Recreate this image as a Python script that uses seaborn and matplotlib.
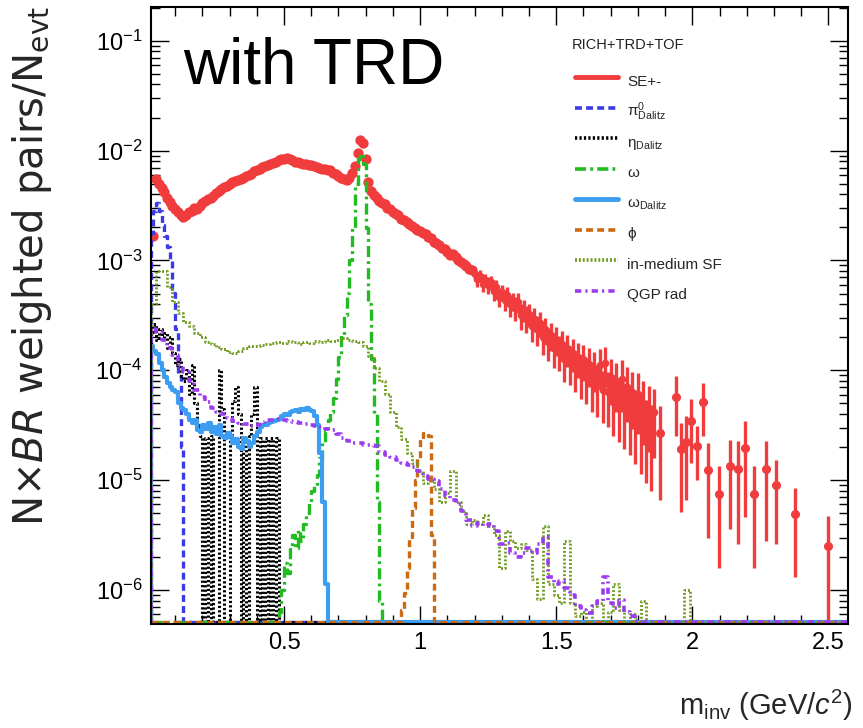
import numpy as np
import matplotlib
matplotlib.use("Agg")
import matplotlib.pyplot as plt
from matplotlib.lines import Line2D
from matplotlib.ticker import LogLocator, NullFormatter, MultipleLocator, FixedLocator
import seaborn as sns

# ---------------- data ----------------
X_MIN, X_MAX = 0.01, 2.572
Y_MIN, Y_MAX = 4.9e-7, 0.203

x_ticks = [0.5, 1.0, 1.5, 2.0, 2.5]
x_tick_labels = ["0.5", "1", "1.5", "2", "2.5"]

E = None  # empty bin

# SE+- , log10(yield), 0.01 GeV bins, low mass part (errors hidden by markers)
se_low_m = np.round(np.arange(0.02, 1.195, 0.01), 3)
se_low_log = [
    -2.78, -2.26, -2.30, -2.34, -2.38, -2.43, -2.47, -2.50, -2.53, -2.56,
    -2.59, -2.60, -2.59, -2.56, -2.55, -2.52, -2.53, -2.50, -2.48, -2.46,
    -2.44, -2.43, -2.41, -2.39, -2.37, -2.35, -2.33, -2.32, -2.30, -2.29,
    -2.28, -2.27, -2.26, -2.25, -2.23, -2.22, -2.21, -2.19, -2.18, -2.17,
    -2.15, -2.14, -2.13, -2.12, -2.11, -2.10, -2.09, -2.08, -2.08, -2.07,
    -2.08, -2.09, -2.10, -2.10, -2.11, -2.12, -2.12, -2.13, -2.13, -2.14,
    -2.15, -2.16, -2.17, -2.17, -2.18, -2.18, -2.20, -2.21, -2.23, -2.25,
    -2.26, -2.27, -2.25, -2.20, -2.14, -2.02, -1.90, -1.93, -2.08, -2.29,
    -2.37, -2.40, -2.43, -2.46, -2.48, -2.49, -2.52, -2.53, -2.56, -2.58,
    -2.59, -2.62, -2.63, -2.65, -2.67, -2.69, -2.70, -2.72, -2.73, -2.75,
    -2.76, -2.79, -2.80, -2.83, -2.84, -2.86, -2.89, -2.90, -2.92, -2.95,
    -2.94, -2.97, -3.00, -3.01, -3.03, -3.05, -3.08, -3.09,
]
# SE+- , 1.20 - 1.86 GeV, with relative errors
se_mid_m = np.round(np.arange(1.20, 1.865, 0.01), 3)
se_mid_log = [
    -3.12, -3.17, -3.14, -3.21, -3.18, -3.22, -3.20, -3.28, -3.24, -3.33,
    -3.29, -3.36, -3.31, -3.40, -3.37, -3.43, -3.38, -3.50, -3.45, -3.52,
    -3.49, -3.60, -3.53, -3.62, -3.57, -3.70, -3.62, -3.74, -3.68, -3.80,
    -3.72, -3.82, -3.76, -3.90, -3.80, -3.92, -3.84, -3.97, -3.88, -4.02,
    -3.90, -4.05, -3.94, -4.10, -3.98, -4.14, -3.95, -4.18, -3.93, -4.20,
    -4.06, -4.25, -4.10, -4.28, -4.08, -4.32, -4.15, -4.35, -4.20, -4.40,
    -4.22, -4.45, -4.30, -4.50, -4.35, -4.55, -4.38,
]
se_mid_rel = [
    0.12, 0.15, 0.12, 0.17, 0.14, 0.18, 0.15, 0.19, 0.16, 0.20,
    0.17, 0.21, 0.18, 0.23, 0.19, 0.24, 0.20, 0.26, 0.22, 0.27,
    0.23, 0.28, 0.24, 0.30, 0.25, 0.31, 0.26, 0.33, 0.28, 0.34,
    0.29, 0.35, 0.30, 0.38, 0.32, 0.39, 0.33, 0.41, 0.35, 0.43,
    0.36, 0.45, 0.38, 0.47, 0.40, 0.48, 0.38, 0.50, 0.40, 0.52,
    0.45, 0.55, 0.48, 0.58, 0.50, 0.60, 0.52, 0.62, 0.54, 0.65,
    0.56, 0.68, 0.58, 0.70, 0.60, 0.72, 0.62,
]
# SE+- , sparse high mass bins
se_high_m = [1.883, 1.941, 1.957, 1.975, 1.994, 2.018, 2.039, 2.059, 2.099,
             2.138, 2.169, 2.195, 2.228, 2.269, 2.308, 2.379, 2.499]
se_high_val = [2.69e-5, 5.68e-5, 1.92e-5, 2.24e-5, 3.43e-5, 2.06e-5, 5.1e-5,
               1.24e-5, 7.5e-6, 1.35e-5, 1.26e-5, 1.95e-5, 7.5e-6, 1.27e-5,
               9.0e-6, 4.9e-6, 2.54e-6]
se_high_err = [2.03e-5, 3.17e-5, 1.41e-5, 1.58e-5, 2.0e-5, 1.05e-5, 2.59e-5,
               9.4e-6, 5.9e-6, 9.9e-6, 1.0e-5, 1.49e-5, 5.9e-6, 9.9e-6,
               6.4e-6, 3.6e-6, 2.14e-6]

# pi0 Dalitz, 0.01 GeV bins from 0.015
pi0_log = [-2.75, -2.55, -2.48, -2.55, -2.68, -2.78, -2.88, -2.99, -3.30,
           -3.62, -4.05, -4.70]

# eta Dalitz, 0.01 GeV bins from 0.015
eta_log = [
    -3.65, -3.58, -3.72, -3.62, -3.70, -3.66, -3.80, -3.70, -3.84, -3.95,
    -3.90, -4.05, -4.10, -4.00, -4.22, -3.95, -4.30, -4.50, -4.60, E,
    -4.62, E, -4.60, E, E, -4.00, -4.35, E, E, -4.60,
    -4.28, -4.15, -4.40, E, -4.62, E, -4.60, -4.40, -4.15, E,
    -4.62, E, -4.62, E, -4.62, E, -4.62, E,
]

# omega, 0.01 GeV bins from 0.485
omega_log = [
    -6.20, -6.00, -5.75, -5.85, -5.60, -5.50, -5.62, -5.45, -5.55, -5.40,
    -5.30, -5.20, -5.10, -5.05, -4.95, -4.80, -4.65, -4.55, -4.45, -4.38,
    -4.25, -4.08, -3.88, -3.68, -3.50, -3.30, -3.00, -2.70, -2.30, -2.08,
    -2.03, -2.12, -2.70, -3.40, -3.90, -4.40, -5.20, -6.10,
]

# omega Dalitz, 0.01 GeV bins from 0.015
omegad_log = [
    -3.78, -3.82, -3.85, -3.93, -4.00, -4.06, -4.12, -4.15, -4.18, -4.20,
    -4.30, -4.34, -4.36, -4.40, -4.45, -4.48, -4.45, -4.54, -4.56, -4.50,
    -4.53, -4.48, -4.56, -4.52, -4.58, -4.50, -4.60, -4.62, -4.57, -4.60,
    -4.66, -4.63, -4.70, -4.72, -4.62, -4.64, -4.70, -4.66, -4.60, -4.56,
    -4.52, -4.50, -4.50, -4.48, -4.47, -4.46, -4.45, -4.44, -4.42, -4.40,
    -4.41, -4.38, -4.37, -4.36, -4.38, -4.35, -4.36, -4.34, -4.36, -4.37,
    -4.42, -4.50, -4.75, -5.20, -5.95,
]

# phi, 0.01 GeV bins from 0.935
phi_log = [-6.18, -6.03, -5.80, -5.52, -5.25, -5.00, -4.80, -4.63, -4.57,
           -4.57, -4.60, -5.50]

# in-medium spectral function, 0.02 GeV bins from 0.02
sf_log = [
    -3.40, -3.10, -3.10, -3.24, -3.38, -3.48, -3.56, -3.60, -3.66, -3.70,
    -3.74, -3.76, -3.79, -3.81, -3.83, -3.84, -3.82, -3.80, -3.78, -3.78,
    -3.77, -3.76, -3.75, -3.74, -3.75, -3.73, -3.74, -3.76, -3.74, -3.75,
    -3.73, -3.74, -3.72, -3.73, -3.72, -3.71, -3.72, -3.73, -3.74, -3.78,
    -3.87, -3.98, -4.10, -4.22, -4.38, -4.52, -4.63, -4.75, -4.84, -4.92,
    -5.03, -5.00, -5.08, -5.20, -5.12, -4.92, -5.20, -5.28, -5.40, -5.36,
    -5.40, -5.32, -5.42, -5.50, -5.80, -5.46, -5.55, -5.62, -5.58, -5.64,
    -5.90, -6.08, -5.42, -5.95, -6.05, -6.12, -5.55, -6.12, -6.24, -6.20,
    E, -6.15, -6.12, E, -6.20, -5.95, -6.18, E, -6.22, E,
    -6.10, E, E, E, E, E, E, E, -6.00, E,
]

# QGP radiation, 0.02 GeV bins from 0.02
qgp_log = [
    -3.62, -3.65, -3.72, -3.80, -3.86, -3.95, -4.02, -4.10, -4.18, -4.24,
    -4.29, -4.34, -4.38, -4.40, -4.43, -4.46, -4.48, -4.49, -4.51, -4.50,
    -4.47, -4.45, -4.45, -4.44, -4.45, -4.46, -4.47, -4.48, -4.49, -4.50,
    -4.51, -4.52, -4.53, -4.54, -4.58, -4.62, -4.64, -4.66, -4.66, -4.68,
    -4.68, -4.69, -4.74, -4.77, -4.79, -4.82, -4.84, -4.86, -4.88, -4.92,
    -4.96, -4.99, -5.01, -5.08, -5.14, -5.18, -5.22, -5.28, -5.36, -5.42,
    -5.39, -5.42, -5.40, -5.46, -5.58, -5.57, -5.66, -5.70, -5.66, -5.62,
    -5.66, -5.58, -5.52, -5.88, -5.95, -5.92, -5.98, -6.05, -6.15, -6.18,
    -6.21, -6.15, -6.10, -5.88, -6.12, -6.16, -6.09, -6.20, -6.24, -6.28,
    E, E,
]

legend_title = "RICH+TRD+TOF"
labels = ["SE+-", r"$\mathrm{\pi^{0}_{Dalitz}}$", r"$\mathrm{\eta_{Dalitz}}$",
          r"$\mathrm{\omega}$", r"$\mathrm{\omega_{Dalitz}}$", r"$\mathrm{\phi}$",
          "in-medium SF", "QGP rad"]

# ---------------- style ----------------
C_SE = "#f03c3c"
C_PI = "#3b3be6"
C_ETA = "#000000"
C_OM = "#22bb22"
C_OMD = "#3d9df0"
C_PHI = "#cc6a14"
C_SF = "#6e9a1e"
C_QGP = "#9b3cf0"

sns.set_theme(style="ticks")
plt.rcParams["font.family"] = ["Liberation Sans", "DejaVu Sans"]
plt.rcParams["mathtext.fontset"] = "custom"
plt.rcParams["mathtext.rm"] = "Liberation Sans"
plt.rcParams["mathtext.it"] = "Liberation Sans:italic"
plt.rcParams["mathtext.bf"] = "Liberation Sans:bold"
plt.rcParams["lines.scale_dashes"] = False

fig = plt.figure(figsize=(8.63, 7.28), dpi=100)
ax = fig.add_axes([150.7 / 863, 104 / 728, 697.3 / 863, 617 / 728])
ax.set_yscale("log")
ax.set_xlim(X_MIN, X_MAX)
ax.set_ylim(Y_MIN, Y_MAX)

# empty bins are drawn just on the lower frame, as ROOT does on a log axis
FLOOR = Y_MIN * 1.035


def draw_hist(start, width, logs, color, ls, lw, z):
    logs = np.array(logs, dtype=float)
    centers = np.round(start + width * np.arange(len(logs)), 4)
    vals = np.where(np.isnan(logs), FLOOR, np.power(10.0, logs))
    x = np.concatenate([[X_MIN], [centers[0] - width], centers, [centers[-1] + width], [X_MAX]])
    y = np.concatenate([[FLOOR], [FLOOR], vals, [FLOOR], [FLOOR]])
    sns.lineplot(x=x, y=y, ax=ax, sort=False, estimator=None, drawstyle="steps-mid",
                 color=color, linestyle=ls, linewidth=lw, zorder=z)


# SE+- points
sns.scatterplot(x=se_low_m, y=np.power(10.0, se_low_log), ax=ax, color=C_SE,
                s=55, linewidth=0, zorder=2)
mid_val = np.power(10.0, se_mid_log)
ax.errorbar(se_mid_m, mid_val, yerr=mid_val * np.array(se_mid_rel), fmt="o", ms=4.5,
            color=C_SE, elinewidth=2.4, capsize=0, zorder=2)
ax.errorbar(se_high_m, se_high_val, yerr=se_high_err, fmt="o", ms=5.5,
            color=C_SE, elinewidth=2.4, capsize=0, zorder=2)

ls_pi = (0, (5, 3))
ls_eta = (0, (1.6, 1.6))
ls_om = (0, (8, 3, 2, 3))
ls_phi = (0, (5, 3))
ls_sf = (0, (1.4, 1.4))
ls_qgp = (0, (4.5, 3, 1.5, 3))

draw_hist(0.015, 0.01, pi0_log, C_PI, ls_pi, 2.4, 3)
draw_hist(0.015, 0.01, eta_log, C_ETA, ls_eta, 2.2, 4)
draw_hist(0.485, 0.01, omega_log, C_OM, ls_om, 2.4, 5)
draw_hist(0.015, 0.01, omegad_log, C_OMD, "-", 3.0, 6)
draw_hist(0.935, 0.01, phi_log, C_PHI, ls_phi, 2.4, 7)
draw_hist(0.02, 0.02, sf_log, C_SF, ls_sf, 2.0, 8)
draw_hist(0.02, 0.02, qgp_log, C_QGP, ls_qgp, 2.6, 9)

# ---------------- axes cosmetics ----------------
for sp in ax.spines.values():
    sp.set_visible(True)
    sp.set_linewidth(1.5)
    sp.set_color("black")
    sp.set_zorder(10)

ax.xaxis.set_major_locator(FixedLocator(x_ticks))
ax.set_xticklabels(x_tick_labels)
ax.xaxis.set_minor_locator(MultipleLocator(0.1))
ax.yaxis.set_major_locator(LogLocator(base=10, numticks=12))
ax.yaxis.set_minor_locator(LogLocator(base=10, subs=np.arange(2, 10), numticks=12))
ax.yaxis.set_minor_formatter(NullFormatter())
ax.tick_params(which="both", direction="in", top=True, right=True, colors="black",
               labelsize=17, pad=6)
ax.tick_params(which="major", length=13, width=1.0)
ax.tick_params(which="minor", length=6.5, width=1.0)

ax.set_xlabel(r"m$_{\mathrm{inv}}$ (GeV/$\mathit{c}^{2}$)", fontsize=21, ha="right", va="baseline")
ax.xaxis.set_label_coords(1.007, -0.1475)
ax.set_ylabel(r"N$\times$$\mathit{BR}$ weighted pairs/N$_{\mathrm{evt}}$", fontsize=29,
              family="DejaVu Sans", math_fontfamily="dejavusans")
ax.yaxis.set_label_coords(-0.138, 0.581)

fig.text(182.7 / 863, 1 - 84 / 728, "with TRD", fontsize=46, ha="left", va="baseline",
         color="black")
fig.text(572 / 863, 1 - 45 / 728, legend_title, fontsize=10.5, ha="left", va="center",
         color="#222222")

handles = [
    Line2D([], [], color=C_SE, lw=3.5),
    Line2D([], [], color=C_PI, lw=2.6, ls=ls_pi),
    Line2D([], [], color=C_ETA, lw=2.6, ls=ls_eta),
    Line2D([], [], color=C_OM, lw=2.6, ls=ls_om),
    Line2D([], [], color=C_OMD, lw=3.5),
    Line2D([], [], color=C_PHI, lw=2.6, ls=ls_phi),
    Line2D([], [], color=C_SF, lw=2.6, ls=ls_sf),
    Line2D([], [], color=C_QGP, lw=2.6, ls=ls_qgp),
]
ax.legend(handles, labels, loc="upper left",
          bbox_to_anchor=(575 / 863, 1 - 69 / 728), bbox_transform=fig.transFigure,
          frameon=False, fontsize=11, handlelength=2.8,
          handletextpad=0.6, labelspacing=0.45, handleheight=2.0, borderpad=0,
          borderaxespad=0)

fig.savefig("out.png", dpi=100)
